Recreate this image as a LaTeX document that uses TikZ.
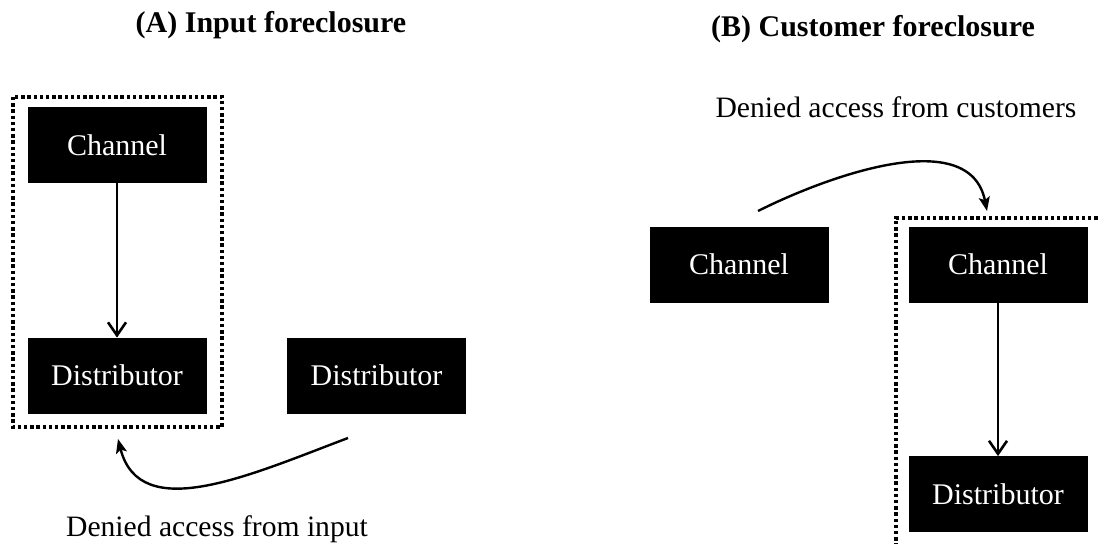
\documentclass[tikz,border=0pt]{standalone}
\usepackage{fontspec}
\setmainfont{Liberation Serif}
\usetikzlibrary{arrows.meta}
\begin{document}
\begin{tikzpicture}[x=0.5pt,y=-0.5pt,
  blockbox/.style={draw=black,fill=black,text=white,minimum width=89pt,
    minimum height=37.5pt,inner sep=0pt,font=\fontsize{15}{18}\selectfont},
  heading/.style={font=\fontsize{15}{18}\selectfont\bfseries,anchor=base,inner sep=0pt},
  caption/.style={font=\fontsize{14.8}{18}\selectfont,anchor=base,inner sep=0pt},
  dotframe/.style={line width=1.7pt,dash pattern=on 1.7pt off 1.4pt},
  flow/.style={line width=1pt,-{Straight Barb[length=6.5pt,width=9pt,line width=1.3pt]}},
  denial/.style={line width=1.2pt,-{Stealth[length=7pt,width=5.5pt,inset=1.5pt]}}]
\useasboundingbox (0,0) rectangle (1098,544);
\clip (0,0) rectangle (1098,544);

% (A) input foreclosure
\node[heading] (titleA) at (271,33) {(A) Input foreclosure};
\draw[dotframe] (13,97) rectangle (222,427);
\node[blockbox] (chA) at (117,145) {Channel};
\node[blockbox] (distA) at (117,375.5) {Distributor};
\node[blockbox] (distA2) at (376.5,375.5) {Distributor};
\draw[flow] (chA) -- (distA);
\coordinate (denyAstart) at (348,438);
\coordinate (denyAend) at (118,439);
\draw[denial] (denyAstart) .. controls (250,475) and (140,525) .. (denyAend);
\node[caption] (capA) at (217,537) {Denied access from input};

% (B) customer foreclosure
\node[heading] (titleB) at (873,37) {(B) Customer foreclosure};
\node[caption] (capB) at (896,118) {Denied access from customers};
\draw[dotframe] (1110,218) -- (896,218) -- (896,560);
\node[blockbox] (chB1) at (739,264.5) {Channel};
\node[blockbox] (chB2) at (998,264.5) {Channel};
\node[blockbox] (distB) at (998,494) {Distributor};
\draw[flow] (chB2) -- (distB);
\coordinate (denyBstart) at (758,211);
\coordinate (denyBend) at (987,211);
\draw[denial] (denyBstart) .. controls (830,175) and (970,125) .. (denyBend);
\end{tikzpicture}
\end{document}
